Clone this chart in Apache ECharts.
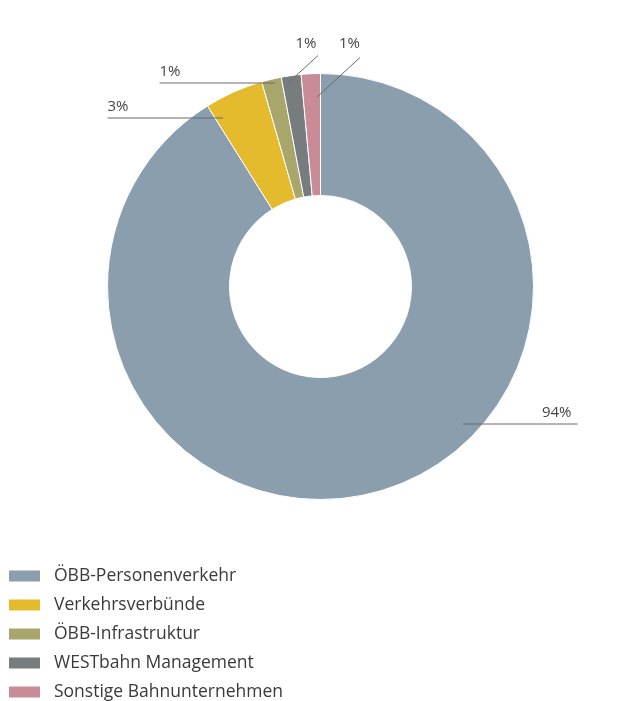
<!DOCTYPE html>
<html>
<head>
<meta charset="utf-8">
<script src="https://cdn.jsdelivr.net/npm/echarts@6/dist/echarts.min.js"></script>
<style>
html,body{margin:0;padding:0;background:#fff;}
#chart{width:630px;height:701px;}
</style>
</head>
<body>
<div id="chart"></div>
<script>
// Data (slice angles) and the printed percentage labels
const categories = ['ÖBB-Personenverkehr', 'Verkehrsverbünde', 'ÖBB-Infrastruktur', 'WESTbahn Management', 'Sonstige Bahnunternehmen'];
const shares = [91.1, 4.45, 1.5, 1.5, 1.45];
const pctLabels = ['94%', '3%', '1%', '1%', '1%'];
const colors = ['#8a9eae', '#e3bb2c', '#a8a66a', '#777d7f', '#c98b95'];

const CX = 320.5, CY = 286.5;
// label geometry as offsets from the pie centre: [anchor, lineEnd, textPos, align]
const labelGeom = [
  { a: [142.5, 137.5], e: [257, 137.5], t: [251, 134], align: 'right' },
  { a: [-97.5, -168.5], e: [-213, -168.5], t: [-213, -172], align: 'left' },
  { a: [-45.5, -203.5], e: [-161, -203.5], t: [-161, -207], align: 'left' },
  { a: [-32.5, -203.5], e: [-2.5, -231], t: [-14.5, -235], align: 'center' },
  { a: [-3.5, -189.5], e: [39.5, -229], t: [29, -235], align: 'center' }
];

const pieData = categories.map((c, i) => ({ name: c, value: shares[i] }));

const chart = echarts.init(document.getElementById('chart'));
chart.setOption({
  backgroundColor: '#ffffff',
  color: colors,
  legend: {
    orient: 'vertical',
    left: 7,
    top: 567,
    height: 220,
    padding: 0,
    icon: 'rect',
    itemWidth: 33,
    itemHeight: 13,
    itemGap: 11,
    textStyle: { fontFamily: 'Open Sans', fontSize: 17.5, color: '#3a3a3a', lineHeight: 17, padding: [0, 0, 0, 8] },
    data: categories
  },
  series: [{
    type: 'pie',
    z: 2,
    center: [CX, CY],
    radius: [91, 213],
    startAngle: 90,
    clockwise: true,
    silent: true,
    itemStyle: { borderColor: '#ffffff', borderWidth: 1 },
    label: { show: false },
    labelLine: { show: false },
    data: pieData
  }, {
    // overlay series: same slices, transparent, used only to draw labels + leader lines on top
    type: 'pie',
    z: 5,
    center: [CX, CY],
    radius: [91, 213],
    startAngle: 90,
    clockwise: true,
    silent: true,
    legendHoverLink: false,
    avoidLabelOverlap: false,
    itemStyle: { color: 'rgba(0,0,0,0)', borderWidth: 0 },
    label: {
      show: true,
      formatter: p => pctLabels[p.dataIndex],
      fontFamily: 'Open Sans',
      fontSize: 15,
      color: '#444444'
    },
    labelLine: {
      show: true,
      length: 10,
      length2: 10,
      lineStyle: { color: '#6a6a6a', width: 1 }
    },
    labelLayout: function (params) {
      const g = labelGeom[params.dataIndex];
      const a = [CX + g.a[0], CY + g.a[1]];
      const e = [CX + g.e[0], CY + g.e[1]];
      return {
        x: CX + g.t[0],
        y: CY + g.t[1],
        align: g.align,
        verticalAlign: 'bottom',
        labelLinePoints: [a, a, e]
      };
    },
    data: pieData.map(d => ({ name: d.name + ' ', value: d.value }))
  }]
});
</script>
</body>
</html>
